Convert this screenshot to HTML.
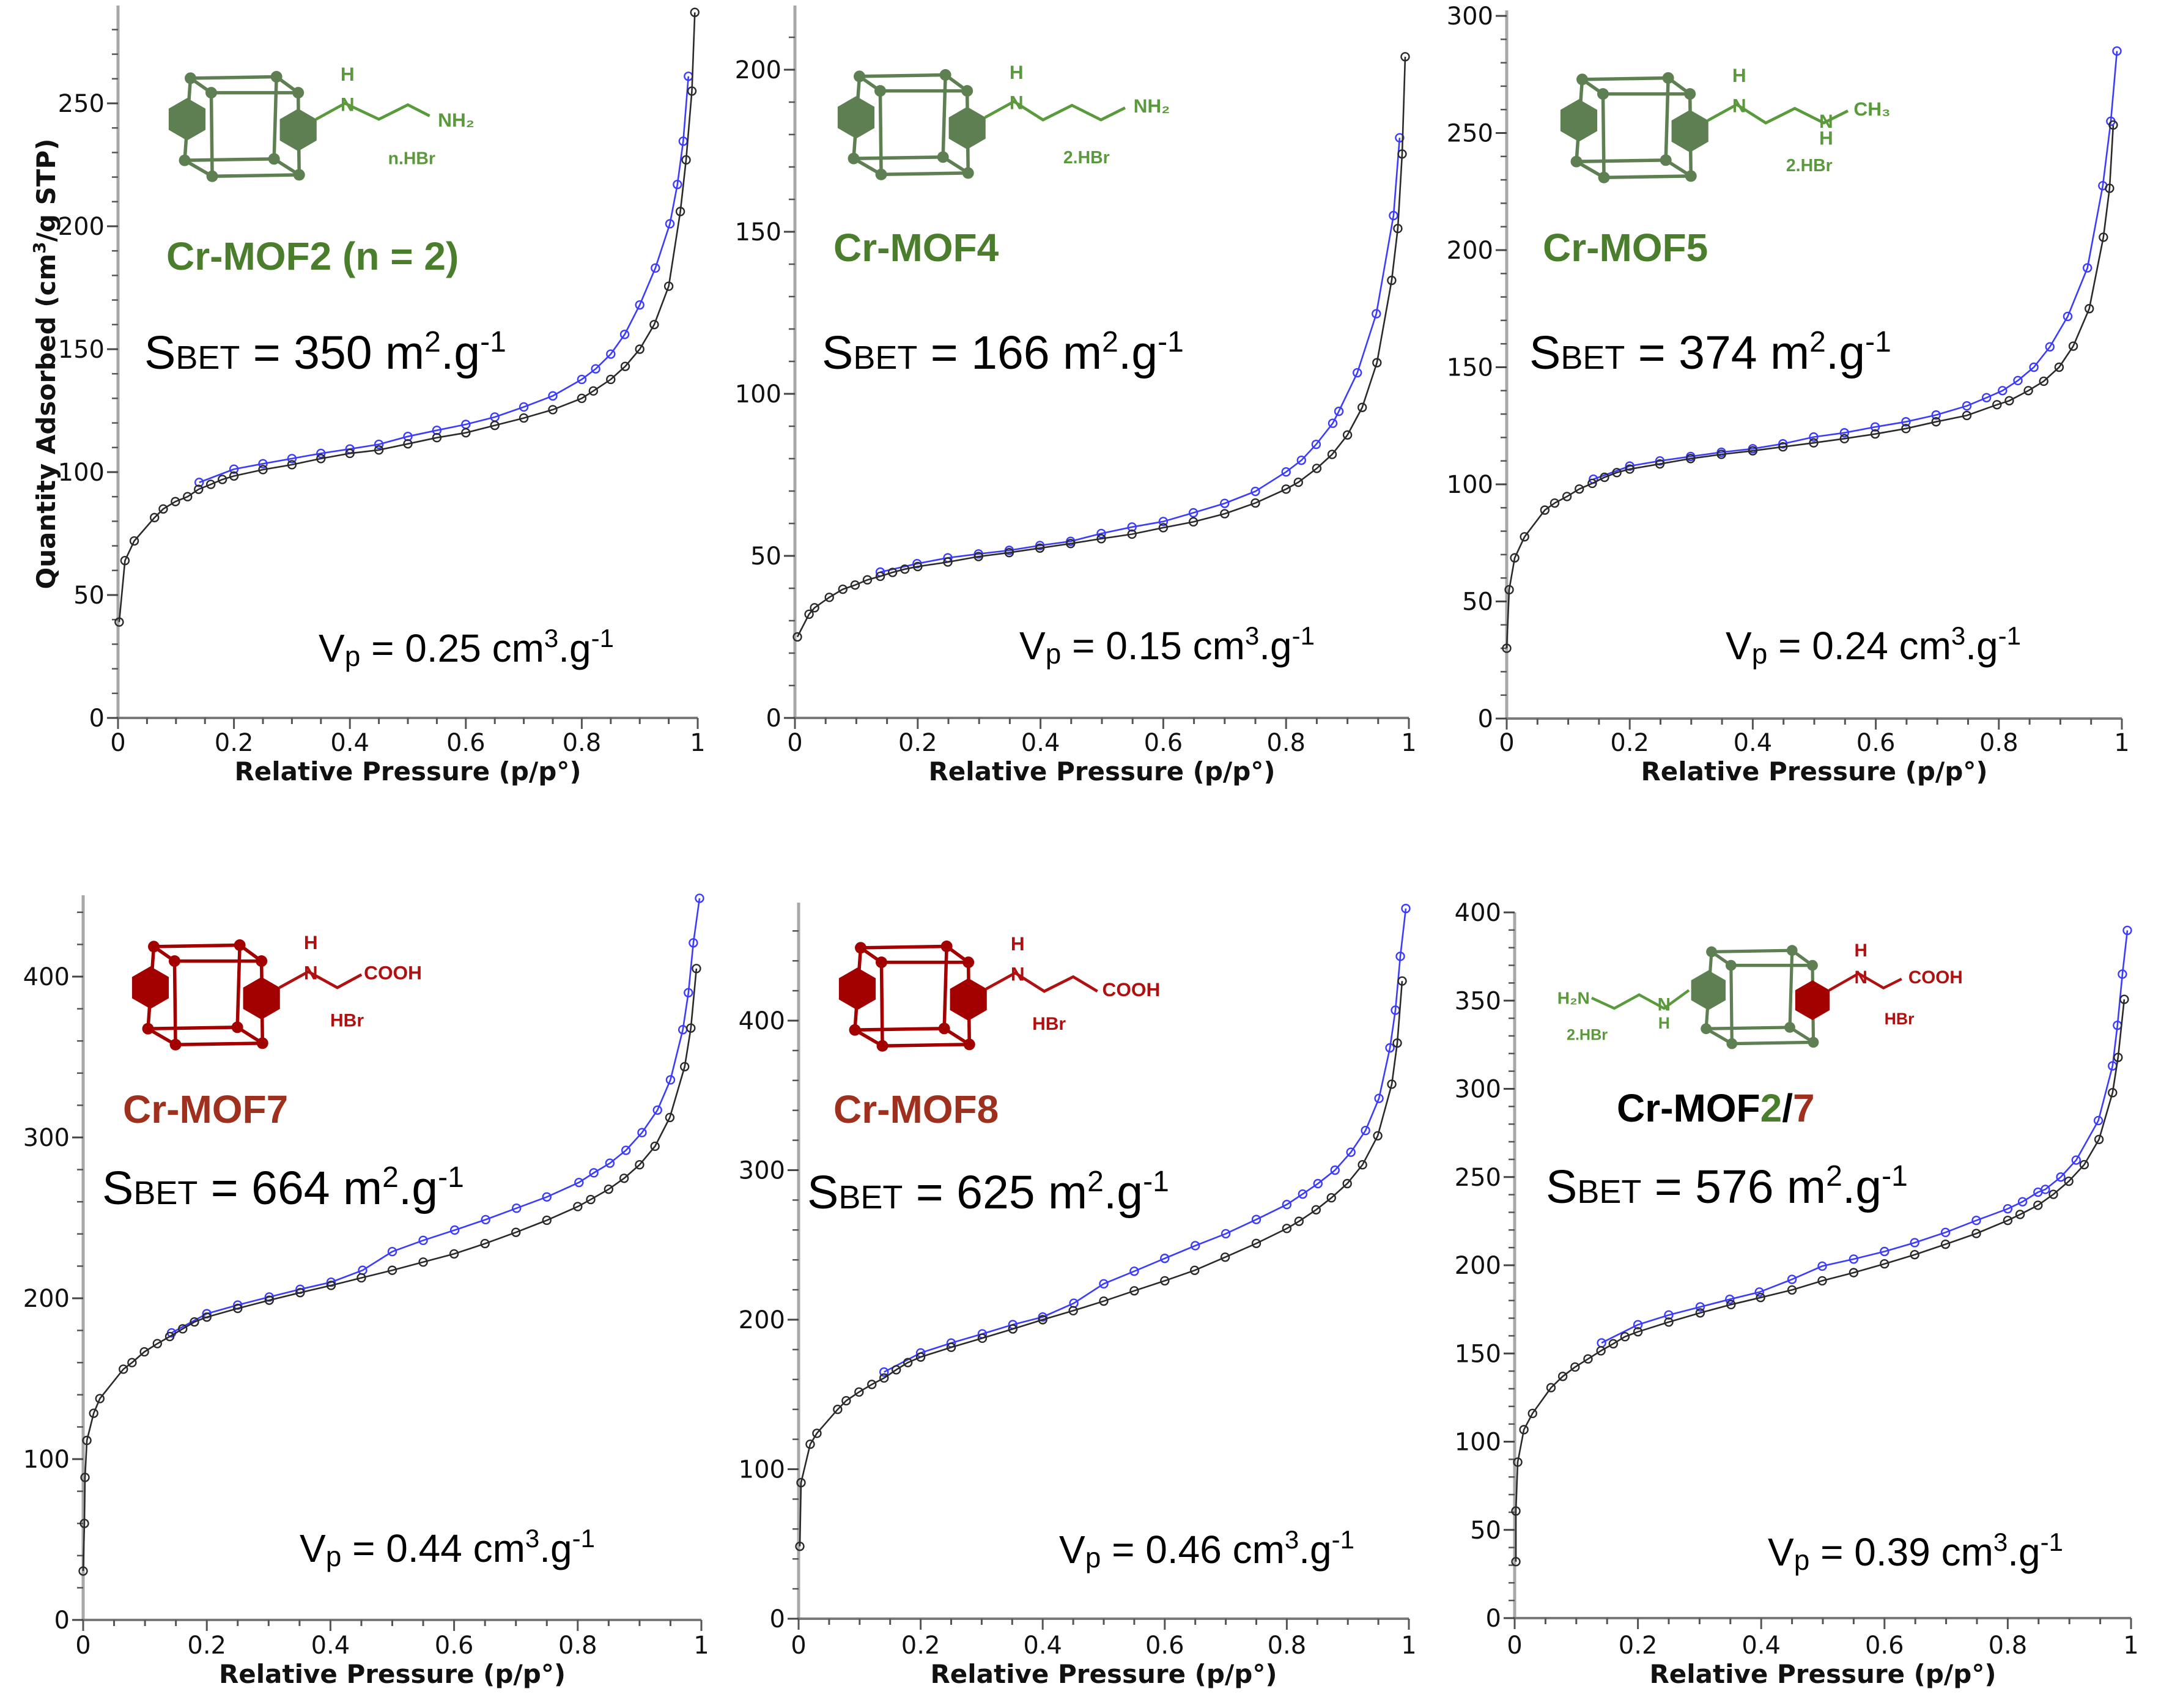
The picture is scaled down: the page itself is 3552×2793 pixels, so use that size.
<!DOCTYPE html>
<html><head><meta charset="utf-8"><title>Cr-MOF N2 isotherms</title>
<style>
html,body{margin:0;padding:0;background:#fff;}
svg{display:block;font-family:"Liberation Sans",sans-serif;}
.tick{font-family:"DejaVu Sans","Liberation Sans",sans-serif;font-size:40px;fill:#111;}
.axt{font-family:"DejaVu Sans","Liberation Sans",sans-serif;font-size:42px;font-weight:bold;fill:#111;}
.big{font-family:"Liberation Sans",sans-serif;font-size:77px;fill:#000;}
.vp{font-family:"Liberation Sans",sans-serif;font-size:64px;fill:#000;}
.lbl{font-family:"Liberation Sans",sans-serif;font-size:64px;font-weight:bold;}
.mol{font-family:"Liberation Sans",sans-serif;font-weight:bold;}
</style></head>
<body>
<svg id="fig" xmlns="http://www.w3.org/2000/svg" width="3552" height="2793" viewBox="0 0 3552 2793">
<rect x="0" y="0" width="3552" height="2793" fill="#fff"/>
<g id="plots"></g>
<g id="mols"></g>

<text class="axt" transform="translate(90,595) rotate(-90)" text-anchor="middle">Quantity Adsorbed (cm<tspan font-size="28" dy="-16">3</tspan><tspan dy="16">/g STP)</tspan></text>

<text class="lbl" x="272" y="441" fill="#4a7d2c">Cr-MOF2 (n = 2)</text>
<text class="lbl" x="1363" y="427" fill="#4a7d2c">Cr-MOF4</text>
<text class="lbl" x="2523" y="427" fill="#4a7d2c">Cr-MOF5</text>
<text class="lbl" x="201" y="1836" fill="#a0301e">Cr-MOF7</text>
<text class="lbl" x="1363" y="1836" fill="#a0301e">Cr-MOF8</text>
<text class="lbl" x="2644" y="1834" fill="#000">Cr-MOF<tspan fill="#4a7d2c">2</tspan>/<tspan fill="#a0301e">7</tspan></text>

<text class="big" x="236" y="603">S<tspan font-size="54">BET</tspan> = 350 m<tspan font-size="48" dy="-28">2</tspan><tspan dy="28">.g</tspan><tspan font-size="48" dy="-28">-1</tspan></text>
<text class="big" x="1344" y="603">S<tspan font-size="54">BET</tspan> = 166 m<tspan font-size="48" dy="-28">2</tspan><tspan dy="28">.g</tspan><tspan font-size="48" dy="-28">-1</tspan></text>
<text class="big" x="2501" y="603">S<tspan font-size="54">BET</tspan> = 374 m<tspan font-size="48" dy="-28">2</tspan><tspan dy="28">.g</tspan><tspan font-size="48" dy="-28">-1</tspan></text>
<text class="big" x="167" y="1969">S<tspan font-size="54">BET</tspan> = 664 m<tspan font-size="48" dy="-28">2</tspan><tspan dy="28">.g</tspan><tspan font-size="48" dy="-28">-1</tspan></text>
<text class="big" x="1320" y="1976">S<tspan font-size="54">BET</tspan> = 625 m<tspan font-size="48" dy="-28">2</tspan><tspan dy="28">.g</tspan><tspan font-size="48" dy="-28">-1</tspan></text>
<text class="big" x="2528" y="1967">S<tspan font-size="54">BET</tspan> = 576 m<tspan font-size="48" dy="-28">2</tspan><tspan dy="28">.g</tspan><tspan font-size="48" dy="-28">-1</tspan></text>

<text class="vp" x="521" y="1082">V<tspan font-size="46" dy="7">p</tspan><tspan dy="-7"> = 0.25 cm</tspan><tspan font-size="42" dy="-24">3</tspan><tspan dy="24">.g</tspan><tspan font-size="42" dy="-24">-1</tspan></text>
<text class="vp" x="1667" y="1078">V<tspan font-size="46" dy="7">p</tspan><tspan dy="-7"> = 0.15 cm</tspan><tspan font-size="42" dy="-24">3</tspan><tspan dy="24">.g</tspan><tspan font-size="42" dy="-24">-1</tspan></text>
<text class="vp" x="2822" y="1078">V<tspan font-size="46" dy="7">p</tspan><tspan dy="-7"> = 0.24 cm</tspan><tspan font-size="42" dy="-24">3</tspan><tspan dy="24">.g</tspan><tspan font-size="42" dy="-24">-1</tspan></text>
<text class="vp" x="490" y="2554">V<tspan font-size="46" dy="7">p</tspan><tspan dy="-7"> = 0.44 cm</tspan><tspan font-size="42" dy="-24">3</tspan><tspan dy="24">.g</tspan><tspan font-size="42" dy="-24">-1</tspan></text>
<text class="vp" x="1732" y="2556">V<tspan font-size="46" dy="7">p</tspan><tspan dy="-7"> = 0.46 cm</tspan><tspan font-size="42" dy="-24">3</tspan><tspan dy="24">.g</tspan><tspan font-size="42" dy="-24">-1</tspan></text>
<text class="vp" x="2891" y="2560">V<tspan font-size="46" dy="7">p</tspan><tspan dy="-7"> = 0.39 cm</tspan><tspan font-size="42" dy="-24">3</tspan><tspan dy="24">.g</tspan><tspan font-size="42" dy="-24">-1</tspan></text>
</svg>

<script>
// ---------- data ----------
const xTickValues = [0, 0.2, 0.4, 0.6, 0.8, 1];
const xTickLabels = ["0", "0.2", "0.4", "0.6", "0.8", "1"];
const yTicks1 = [0, 50, 100, 150, 200, 250];
const yTicks2 = [0, 50, 100, 150, 200];
const yTicks3 = [0, 50, 100, 150, 200, 250, 300];
const yTicks4 = [0, 100, 200, 300, 400];
const yTicks5 = [0, 100, 200, 300, 400];
const yTicks6 = [0, 50, 100, 150, 200, 250, 300, 350, 400];

const p1AdsX = [0.002,0.012,0.028,0.063,0.078,0.099,0.12,0.139,0.16,0.18,0.2,0.25,0.3,0.35,0.4,0.45,0.5,0.55,0.6,0.65,0.7,0.75,0.8,0.82,0.85,0.875,0.9,0.925,0.95,0.97,0.98,0.99,0.995];
const p1AdsY = [39,64,72,81.5,85,88,90,93,95,97,98.4,101,103,105.5,107.6,109,111.5,114,116,119,122,125.4,130,133,137.7,143,150,160,175.6,206,227,255,287];
const p1DesX = [0.984,0.975,0.965,0.952,0.927,0.9,0.874,0.85,0.824,0.8,0.75,0.7,0.65,0.6,0.55,0.5,0.45,0.4,0.35,0.3,0.25,0.2,0.14];
const p1DesY = [261,234.6,217,201,183,168,156,148,142,137.7,131,126.5,122.4,119.4,117,114.5,111.3,109.4,107.6,105.5,103.4,101.2,95.8];

const p2AdsX = [0.004,0.023,0.032,0.056,0.078,0.098,0.118,0.139,0.159,0.179,0.2,0.249,0.299,0.349,0.399,0.449,0.499,0.549,0.6,0.649,0.7,0.75,0.8,0.82,0.85,0.875,0.9,0.924,0.948,0.972,0.982,0.989,0.994];
const p2AdsY = [25,32,34,37.2,39.7,41,42.6,43.7,44.9,45.9,46.7,48.1,49.8,51,52.4,53.8,55.3,56.7,58.7,60.5,63,66.3,70.6,72.7,77,81.3,87.3,95.8,109.6,135,151,174,204];
const p2DesX = [0.985,0.975,0.947,0.916,0.886,0.876,0.849,0.825,0.8,0.75,0.7,0.649,0.6,0.549,0.499,0.449,0.399,0.349,0.299,0.249,0.199,0.139];
const p2DesY = [179,155,124.7,106.5,94.6,90.9,84.4,79.5,75.9,69.9,66.2,63.3,60.6,58.9,56.9,54.5,53.2,51.7,50.6,49.4,47.6,45];

const p3AdsX = [0,0.004,0.013,0.029,0.062,0.078,0.098,0.118,0.139,0.159,0.179,0.2,0.249,0.299,0.349,0.4,0.449,0.499,0.549,0.599,0.649,0.698,0.748,0.797,0.817,0.848,0.873,0.898,0.921,0.947,0.97,0.98,0.986];
const p3AdsY = [30,55,68.6,77.6,89,92,94.8,98,100.4,103,105,106.5,108.7,111,112.8,114.3,116,117.7,119.5,121.5,123.8,126.7,129.4,134,135.7,140,144,150,159,175,205.5,226.4,253.4];
const p3DesX = [0.992,0.982,0.969,0.944,0.912,0.883,0.857,0.831,0.806,0.78,0.748,0.698,0.649,0.599,0.549,0.499,0.449,0.4,0.349,0.299,0.249,0.2,0.141];
const p3DesY = [285,255,227.5,192.4,171.7,158.7,150,144.3,140,137,133.5,129.6,126.7,124.5,122,120.2,117.3,115.2,113.7,111.9,110,107.8,102.2];

const p4AdsX = [0,0.002,0.003,0.006,0.017,0.027,0.065,0.079,0.099,0.12,0.14,0.161,0.18,0.2,0.25,0.301,0.351,0.401,0.45,0.5,0.55,0.6,0.65,0.7,0.75,0.8,0.821,0.85,0.875,0.9,0.925,0.949,0.973,0.983,0.992];
const p4AdsY = [30.4,60,88.6,111.6,128.5,137.6,155.9,160,166.7,171.8,176.2,181,185.3,188.3,193.7,198.8,203.5,208,212.7,217.4,222.5,227.6,234,241,248.5,257,261.4,267.8,274.6,283,294.5,312.4,344,368,405];
const p4DesX = [0.997,0.987,0.979,0.97,0.95,0.929,0.904,0.878,0.852,0.826,0.802,0.75,0.701,0.651,0.601,0.55,0.5,0.452,0.401,0.351,0.301,0.25,0.2,0.143];
const p4DesY = [448.7,421,390,367,335.8,317,303,292,284,278,272,263,256,248.9,242.4,236,229,217.4,210,205.6,200.8,195.8,190.4,178.5];

const p5AdsX = [0.002,0.004,0.019,0.03,0.064,0.078,0.099,0.12,0.14,0.16,0.179,0.2,0.25,0.301,0.351,0.4,0.45,0.5,0.55,0.6,0.649,0.699,0.75,0.8,0.82,0.848,0.873,0.899,0.924,0.949,0.972,0.981,0.989];
const p5AdsY = [48.4,91,116.7,124,140,145.8,151.6,156.7,161,166.5,171.3,175,181.5,187.6,193.8,200,206,212.4,219.3,226,233,241.8,251,261,265.8,273.5,281.5,291,303.6,323,357.5,385,426.5];
const p5DesX = [0.995,0.986,0.978,0.969,0.951,0.929,0.905,0.879,0.851,0.826,0.8,0.75,0.7,0.65,0.6,0.55,0.5,0.451,0.4,0.351,0.301,0.25,0.2,0.14];
const p5DesY = [475,443,407,381.8,348,326.5,312,300,291,284,277,267,257.5,249.5,241,232.4,224,211,201.8,196.7,190.5,184.4,177.8,165];

const p6AdsX = [0.002,0.002,0.005,0.015,0.029,0.059,0.078,0.098,0.119,0.14,0.16,0.179,0.2,0.25,0.301,0.351,0.399,0.45,0.499,0.55,0.6,0.649,0.699,0.749,0.8,0.82,0.849,0.874,0.899,0.924,0.948,0.97,0.979,0.989];
const p6AdsY = [32,60.7,88.4,106.8,116,130.6,137,142.3,146.9,151.5,155.5,159.5,162.3,167.8,173,177.7,181.7,186,191.2,195.8,200.8,206,211.9,218,225.4,228.8,234,240.2,247.6,257,271.3,297.8,317.8,350.7];
const p6DesX = [0.994,0.986,0.978,0.97,0.947,0.911,0.886,0.861,0.849,0.824,0.8,0.749,0.699,0.649,0.6,0.55,0.499,0.45,0.397,0.349,0.301,0.25,0.2,0.141];
const p6DesY = [389.8,365,336,313,282,259.6,250,243,241.4,236,232,225.4,218.6,212.8,207.8,203.5,199.5,192,184.8,180.7,176.4,171.8,166.3,156];

// ---------- layout (pixel geometry, not data) ----------
const panels = [
  {id:'mof2', x0:193, x1:1141, y0:1174, yRefPx:169, yRefVal:250, topPx:9, minor:10, yt:yTicks1, ax:p1AdsX, ay:p1AdsY, dx:p1DesX, dy:p1DesY, titleY:1276, labY:1228},
  {id:'mof4', x0:1300, x1:2304, y0:1174, yRefPx:114, yRefVal:200, topPx:9, minor:10, yt:yTicks2, ax:p2AdsX, ay:p2AdsY, dx:p2DesX, dy:p2DesY, titleY:1276, labY:1228},
  {id:'mof5', x0:2464, x1:3470, y0:1175, yRefPx:26, yRefVal:300, topPx:17, minor:10, yt:yTicks3, ax:p3AdsX, ay:p3AdsY, dx:p3DesX, dy:p3DesY, titleY:1276, labY:1228},
  {id:'mof7', x0:136, x1:1147, y0:2649, yRefPx:1597, yRefVal:400, topPx:1464, minor:20, yt:yTicks4, ax:p4AdsX, ay:p4AdsY, dx:p4DesX, dy:p4DesY, titleY:2752, labY:2704},
  {id:'mof8', x0:1306, x1:2304, y0:2647, yRefPx:1669, yRefVal:400, topPx:1476, minor:20, yt:yTicks5, ax:p5AdsX, ay:p5AdsY, dx:p5DesX, dy:p5DesY, titleY:2752, labY:2704},
  {id:'mof2-7', x0:2477, x1:3485, y0:2646, yRefPx:1492, yRefVal:400, topPx:1492, minor:10, yt:yTicks6, ax:p6AdsX, ay:p6AdsY, dx:p6DesX, dy:p6DesY, titleY:2752, labY:2704}
];

const NS = 'http://www.w3.org/2000/svg';
function mk(tag, attrs, parent){
  const e = document.createElementNS(NS, tag);
  for (const k in attrs) e.setAttribute(k, attrs[k]);
  parent.appendChild(e);
  return e;
}
const plots = document.getElementById('plots');

panels.forEach(p => {
  const g = mk('g', {}, plots);
  
  
  const sx = v => p.x0 + v * (p.x1 - p.x0);
  const k = (p.y0 - p.yRefPx) / p.yRefVal;
  const sy = v => p.y0 - v * k;
  const yMax = (p.y0 - p.topPx) / k;

  const ya = mk('line', {x1:p.x0, y1:p.y0, x2:p.x0, y2:p.topPx, stroke:'#a8a8a8', 'stroke-width':5}, g);
  
  
  const xa = mk('line', {x1:p.x0 - 2, y1:p.y0, x2:p.x1, y2:p.y0, stroke:'#7a7a7a', 'stroke-width':4}, g);
  
  

  for (let v = 0; v <= yMax + 0.01; v += p.minor) {
    const t = mk('line', {x1:p.x0 - 10, y1:sy(v), x2:p.x0, y2:sy(v), stroke:'#555', 'stroke-width':2.5}, g);
    
    
  }
  p.yt.forEach(v => {
    const t = mk('line', {x1:p.x0 - 18, y1:sy(v), x2:p.x0, y2:sy(v), stroke:'#444', 'stroke-width':3}, g);
    
    
    const lb = mk('text', {x:p.x0 - 22, y:sy(v) + 14, 'text-anchor':'end', class:'tick'}, g);
    lb.textContent = String(v);
    
    
  });
  for (let i = 0; i <= 20; i++) {
    const v = i * 0.05;
    const t = mk('line', {x1:sx(v), y1:p.y0, x2:sx(v), y2:p.y0 + (i % 4 === 0 ? 18 : 10), stroke:'#555', 'stroke-width':3}, g);
    
    
  }
  xTickValues.forEach((v, i) => {
    const lb = mk('text', {x:sx(v), y:p.labY, 'text-anchor':'middle', class:'tick'}, g);
    lb.textContent = xTickLabels[i];
    
    
  });
  const xt = mk('text', {x:(p.x0 + p.x1) / 2, y:p.titleY, 'text-anchor':'middle', class:'axt'}, g);
  xt.textContent = 'Relative Pressure (p/p°)';
  
  

  function series(xs, ys, color, name){
    const sg = mk('g', {}, g);
    
    
    const pts = xs.map((x, i) => sx(x).toFixed(1) + ',' + sy(ys[i]).toFixed(1)).join(' ');
    const pl = mk('polyline', {points:pts, fill:'none', stroke:color, 'stroke-width':2.6}, sg);
    
    
    xs.forEach((x, i) => {
      const c = mk('circle', {cx:sx(x), cy:sy(ys[i]), r:6.5, fill:'none', stroke:color, 'stroke-width':2.4}, sg);
      
      
    });
  }
  series(p.dx, p.dy, '#3b3bff', 'desorption-series');
  series(p.ax, p.ay, '#2a2a2a', 'adsorption-series');
});

// ---------- molecule sketches ----------
const mols = document.getElementById('mols');
function hex(cx, cy, r){
  const a = [];
  for (let i = 0; i < 6; i++) { const t = Math.PI / 6 + i * Math.PI / 3; a.push((cx + r * Math.cos(t)).toFixed(1) + ',' + (cy + r * Math.sin(t)).toFixed(1)); }
  return a.join(' ');
}
function cube(g, col, colR){
  const back = [[50,10],[228,7],[223,177],[38,180]];
  const front = [[93,40],[273,40],[275,210],[95,213]];
  const cR = colR || col;
  const edges = [];
  for (let i = 0; i < 4; i++) { edges.push([back[i], back[(i+1)%4]]); edges.push([front[i], front[(i+1)%4]]); edges.push([back[i], front[i]]); }
  edges.forEach(e => {
    const ln = mk('line', {x1:e[0][0], y1:e[0][1], x2:e[1][0], y2:e[1][1], stroke:col, 'stroke-width':7}, g);
    
    
  });
  back.concat(front).forEach(pt => {
    const c = mk('circle', {cx:pt[0], cy:pt[1], r:12, fill:col}, g);
    
    
  });
  const h1 = mk('polygon', {points:hex(43, 95, 44), fill:col}, g);
  
  
  const h2 = mk('polygon', {points:hex(273, 117, 44), fill:cR}, g);
  
  
}
function chain(g, pts, col){
  const pl = mk('polyline', {points:pts.map(q => q.join(',')).join(' '), fill:'none', stroke:col, 'stroke-width':6}, g);
  
  
}
function label(g, x, y, s, col, size){
  const t = mk('text', {x:x, y:y, fill:col, 'font-size':size || 40, class:'mol', 'text-anchor':'middle'}, g);
  t.textContent = s;
  
  
}
const green = '#5d7f52', gtxt = '#5a9a3c', red = '#a30000', rtxt = '#b01010';
function molGroup(name, ox, oy, s){
  const g = mk('g', {transform:'translate(' + ox + ',' + oy + ') scale(' + s + ')'}, mols);
  
  
  return g;
}
let g;
g = molGroup('molecule-mof2', 272, 120, 0.79);
cube(g, green);
chain(g, [[310,95],[370,62],[440,95],[500,65],[545,88]], gtxt);
label(g, 375, 15, 'H', gtxt); label(g, 375, 78, 'N', gtxt); label(g, 600, 110, 'NH₂', gtxt); label(g, 508, 188, 'n.HBr', gtxt, 36);

g = molGroup('molecule-mof4', 1366, 117, 0.79);
cube(g, green);
chain(g, [[310,95],[370,62],[430,100],[490,70],[550,100],[600,75]], gtxt);
label(g, 375, 15, 'H', gtxt); label(g, 375, 78, 'N', gtxt); label(g, 655, 85, 'NH₂', gtxt); label(g, 520, 190, '2.HBr', gtxt, 36);

g = molGroup('molecule-mof5', 2548, 122, 0.79);
cube(g, green);
chain(g, [[310,95],[370,62],[430,100],[490,70],[550,100],[600,75]], gtxt);
label(g, 375, 15, 'H', gtxt); label(g, 375, 78, 'N', gtxt); label(g, 555, 110, 'N', gtxt); label(g, 555, 145, 'H', gtxt);
label(g, 650, 85, 'CH₃', gtxt); label(g, 520, 200, '2.HBr', gtxt, 36);

g = molGroup('molecule-mof7', 212, 1540, 0.79);
cube(g, red);
chain(g, [[310,95],[370,62],[430,95],[480,68]], rtxt);
label(g, 375, 15, 'H', rtxt); label(g, 375, 78, 'N', rtxt); label(g, 545, 78, 'COOH', rtxt); label(g, 450, 175, 'HBr', rtxt, 38);

g = molGroup('molecule-mof8', 1368, 1542, 0.79);
cube(g, red);
chain(g, [[310,95],[370,62],[430,100],[490,70],[540,100]], rtxt);
label(g, 375, 15, 'H', rtxt); label(g, 375, 78, 'N', rtxt); label(g, 610, 110, 'COOH', rtxt); label(g, 440, 180, 'HBr', rtxt, 38);

g = molGroup('molecule-mof2-7', 2762, 1549, 0.74);
cube(g, green, red);
chain(g, [[-215,112],[-165,135],[-110,105],[-55,135],[0,95]], gtxt);
chain(g, [[310,95],[375,58],[430,90],[470,70]], rtxt);
label(g, -255, 125, 'H₂N', gtxt, 38); label(g, -55, 140, 'N', gtxt); label(g, -55, 180, 'H', gtxt, 36); label(g, -225, 205, '2.HBr', gtxt, 34);
label(g, 380, 20, 'H', rtxt); label(g, 380, 80, 'N', rtxt); label(g, 545, 80, 'COOH', rtxt); label(g, 465, 170, 'HBr', rtxt, 36);
</script>
</body></html>
